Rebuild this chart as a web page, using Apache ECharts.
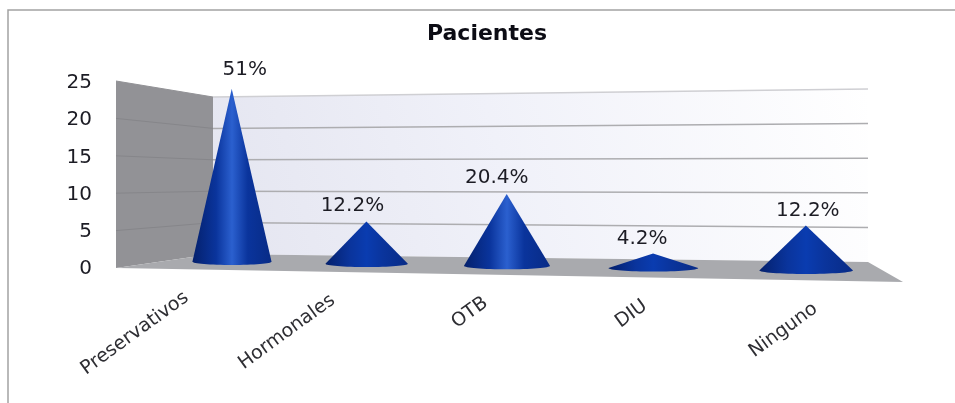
<!DOCTYPE html>
<html>
<head>
<meta charset="utf-8">
<style>html,body{margin:0;padding:0;background:#fff}#c{width:955px;height:403px;filter:blur(0.45px)}</style>
<script src="https://cdn.jsdelivr.net/npm/echarts@6/dist/echarts.min.js"></script>
</head>
<body>
<div id="c"></div>
<script>
var categories = ['Preservativos', 'Hormonales', 'OTB', 'DIU', 'Ninguno'];
var patients = [25, 6, 10, 2, 6];
var shareLabels = ['51%', '12.2%', '20.4%', '4.2%', '12.2%'];
var yTicks = [0, 5, 10, 15, 20, 25];
var chartTitle = 'Pacientes';

// layout of the projected box (front plane = depth 0, back wall = depth 1)
var GRID = {left: 116, right: 52, top: 83, height: 186};
var FRONT = {xl: 116, xr: 903, bl: 268, br: 282, tl: 81, tr: 75};
var BACK = {xl: 213, xr: 868, bl: 254, br: 262, tl: 97, tr: 89};
var W_RIGHT = 0.9;
var CONE_DEPTH = 0.52;
var CONE_HALF = 0.3;
var labelNudge = [[13, -19], [-14, -16], [-10, -16], [-11, -15], [2, -15]];
var categoryNudge = [0, -1, -2, -3, 0];

function lerp(a, b, k) { return a + (b - a) * k; }
// t: 0..1 along the categories, f: 0..1 up the value axis, d: depth
function project(t, f, d) {
  var xl = lerp(FRONT.xl, BACK.xl, d), xr = lerp(FRONT.xr, BACK.xr, d);
  var bl = lerp(FRONT.bl, BACK.bl, d), br = lerp(FRONT.br, BACK.br, d);
  var tl = lerp(FRONT.tl, BACK.tl, d), tr = lerp(FRONT.tr, BACK.tr, d);
  var w = 1 + t * (W_RIGHT - 1);
  var yl = lerp(bl, tl, f), yr = lerp(br, tr, f);
  return [(xl + t * (W_RIGHT * xr - xl)) / w, (yl + t * (W_RIGHT * yr - yl)) / w];
}
var gridW = 955 - GRID.left - GRID.right;
function toT(px) { return (px - GRID.left) / gridW; }
function toF(py) { return (GRID.top + GRID.height - py) / GRID.height; }

function wallsItem() {
  var d0 = function (t, f) { return project(t, f, 0); };
  var d1 = function (t, f) { return project(t, f, 1); };
  return {
    type: 'group',
    children: [
      {type: 'polygon', shape: {points: [d0(0, 0), d0(0, 1), d1(0, 1), d1(0, 0)]},
        style: {fill: '#929296'}},
      {type: 'polygon', shape: {points: [d1(0, 0), d1(0, 1), d1(1, 1), d1(1, 0)]},
        style: {fill: {type: 'linear', x: 0, y: 1, x2: 1, y2: 0, colorStops: [
          {offset: 0, color: '#e4e5f0'}, {offset: 0.45, color: '#f0f1f9'}, {offset: 1, color: '#ffffff'}]}}},
      {type: 'polygon', shape: {points: [d0(0, 0), d1(0, 0), d1(1, 0), d0(1, 0)]},
        style: {fill: '#a9aaae'}}
    ]
  };
}

function gridlineItem(params, api) {
  var f = toF(api.coord([0, api.value(0)])[1]);
  if (f <= 0.001) { return {type: 'group', children: []}; }
  var a = project(0, f, 0), b = project(0, f, 1), c = project(1, f, 1);
  return {
    type: 'group',
    children: [
      {type: 'line', shape: {x1: a[0], y1: a[1], x2: b[0], y2: b[1]},
        style: {stroke: f > 0.999 ? '#929296' : '#86868a', lineWidth: 1}},
      {type: 'line', shape: {x1: b[0], y1: b[1], x2: c[0], y2: c[1]},
        style: {stroke: f > 0.999 ? '#cfcfd3' : '#adadb0', lineWidth: 1.5}}
    ]
  };
}

function coneItem(params, api) {
  var i = api.value(0), v = api.value(1);
  var tipPx = api.coord([i, v]), basePx = api.coord([i, 0]);
  var bandW = api.size([1, 0])[0];
  var t = toT(basePx[0]), f = toF(tipPx[1]);
  var tip = project(t, f, CONE_DEPTH), base = project(t, 0, CONE_DEPTH);
  var left = project(toT(basePx[0] - CONE_HALF * bandW), 0, CONE_DEPTH);
  var right = project(toT(basePx[0] + CONE_HALF * bandW), 0, CONE_DEPTH);
  var cx = (left[0] + right[0]) / 2, rx = (right[0] - left[0]) / 2;
  var fullH = base[1] - project(t, 1, CONE_DEPTH)[1];
  var ry = fullH * 0.019;
  var pts = [[tip[0], tip[1]]];
  for (var a = 0; a <= 32; a++) {
    var ang = Math.PI * a / 32;
    pts.push([cx + rx * Math.cos(ang), base[1] + ry * Math.sin(ang)]);
  }
  var glow = v > 6 ? '#2b60cf' : '#0a3cb0';
  var nudge = labelNudge[i];
  return {
    type: 'group',
    children: [
      {type: 'polygon', shape: {points: pts},
        style: {fill: {type: 'linear', x: 0, y: 0, x2: 1, y2: 0, colorStops: [
          {offset: 0, color: '#04206c'}, {offset: 0.3, color: '#0a349c'},
          {offset: 0.5, color: glow}, {offset: 0.7, color: '#0a349c'},
          {offset: 1, color: '#082b86'}]}}},
      {type: 'text', x: tip[0] + nudge[0], y: tip[1] + nudge[1],
        style: {text: shareLabels[i], x: 0, y: 0, align: 'center', verticalAlign: 'middle',
          font: '20px "DejaVu Sans"', fill: '#1c1c24'}}
    ]
  };
}

function categoryLabelItem(params, api) {
  var i = api.value(0);
  var t = toT(api.coord([i, 0])[0]);
  var p = project(t, 0, 0);
  return {
    type: 'text', x: p[0] - 1 + categoryNudge[i], y: p[1] + 26.5, rotation: 36 * Math.PI / 180,
    style: {text: categories[i], x: 0, y: 0, align: 'right', verticalAlign: 'middle',
      font: '19px "DejaVu Sans"', fill: '#2e2e33'}
  };
}

var chart = echarts.init(document.getElementById('c'));
chart.setOption({
  animation: false,
  backgroundColor: '#ffffff',
  title: {
    text: chartTitle, left: 482, top: 18, textAlign: 'center',
    textStyle: {fontFamily: 'DejaVu Sans', fontWeight: 'bold', fontSize: 22, color: '#0c0c14'}
  },
  grid: {left: GRID.left, right: GRID.right, top: GRID.top, height: GRID.height, containLabel: false},
  xAxis: {type: 'category', data: categories, axisLine: {show: false}, axisTick: {show: false}, axisLabel: {show: false}},
  yAxis: {
    type: 'value', min: 0, max: 25, interval: 5,
    axisLine: {show: false}, axisTick: {show: false}, splitLine: {show: false},
    axisLabel: {margin: 24, fontFamily: 'DejaVu Sans', fontSize: 20, color: '#1c1c24'}
  },
  graphic: [{
    type: 'polyline', silent: true, z: 0,
    shape: {points: [[8, 403], [8, 10], [955, 10]]},
    style: {stroke: '#a2a2a2', lineWidth: 1.5, fill: null}
  }],
  series: [
    {type: 'custom', name: 'walls', z: 1, silent: true, renderItem: wallsItem, data: [[0, 0]], encode: {x: 0, y: 1}},
    {type: 'custom', name: 'gridlines', z: 2, silent: true, renderItem: gridlineItem,
      data: yTicks.map(function (v) { return [v]; }), encode: {y: 0}},
    {type: 'custom', name: 'Pacientes', z: 3, renderItem: coneItem,
      data: patients.map(function (v, i) { return [i, v]; }), encode: {x: 0, y: 1}},
    {type: 'custom', name: 'categories', z: 3, silent: true, renderItem: categoryLabelItem,
      data: categories.map(function (c, i) { return [i, 0]; }), encode: {x: 0, y: 1}}
  ]
});
</script>
</body>
</html>
